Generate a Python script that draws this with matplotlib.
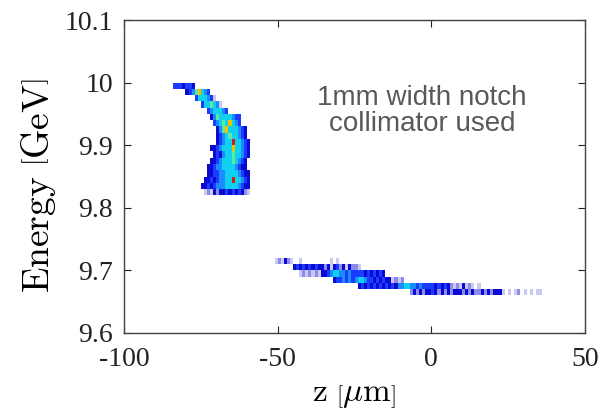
import numpy as np
import matplotlib
matplotlib.use("Agg")
import matplotlib.pyplot as plt
from matplotlib.colors import ListedColormap, BoundaryNorm

plt.rcParams['font.family'] = 'serif'
plt.rcParams['font.serif'] = ['Liberation Serif', 'DejaVu Serif']
plt.rcParams['mathtext.fontset'] = 'cm'
plt.rcParams['axes.unicode_minus'] = False

# histogram grid (z in um, energy in GeV)
z_edges = np.arange(-85, 41, 1.0)
E_edges = np.round(np.arange(9.66, 10.005, 0.01), 3)

# upper blob: one string per energy row, one char per z bin ('.' = empty, 1..9 = count level)
upper_E = [9.995, 9.985, 9.975, 9.965, 9.955, 9.945, 9.935, 9.925, 9.915,
           9.905, 9.895, 9.885, 9.875, 9.865, 9.855, 9.845, 9.835, 9.825]
upper_z0 = [-84, -80, -77, -75, -73, -72, -71, -70, -70,
            -70, -72, -71, -72, -73, -73, -74, -75, -74]
upper_rows = [
    "4443443",
    "34578654",
    "4666541",
    "4667651",
    "4566654",
    "3576666544",
    "456768654",
    "3578666543",
    "3456766543",
    "34566966543",
    "3345666866543",
    "343566766543",
    "334566676543",
    "3345566665433",
    "33445566665433",
    "334345566966543",
    "3343455566665433",
    "121323343434321",
]

# lower band
lower_E = [9.715, 9.705, 9.695, 9.685, 9.675, 9.665]
lower_z0 = [-51, -45, -43, -32, -24, -7]
lower_rows = [
    "121321..1.........1.1",
    "3434343433231342313221",
    "1212121334566554544443434343",
    "34454545665443434331212",
    "3434343434343556655454444343432121312" + "1.1",
    "232323343232323332323223232333" + "1.1.12.1.1.11",
]

level_colors = ['#c9c9f2', '#8c8cec', '#0a0ad2', '#1a3cff', '#1a8cff',
                '#10d0f0', '#60e8a0', '#f5c000', '#d22010']

H = np.zeros((len(E_edges) - 1, len(z_edges) - 1))
for rows, z0s, Es in [(upper_rows, upper_z0, upper_E), (lower_rows, lower_z0, lower_E)]:
    for s, z0, e in zip(rows, z0s, Es):
        r = int(np.searchsorted(E_edges, e) - 1)
        for i, ch in enumerate(s):
            if ch != '.':
                c = int(np.searchsorted(z_edges, z0 + i + 0.5) - 1)
                H[r, c] = int(ch)
H = np.ma.masked_equal(H, 0)

cmap = ListedColormap(level_colors)
norm = BoundaryNorm(np.arange(0.5, 10.5, 1), cmap.N)

fig = plt.figure(figsize=(6, 4.13), dpi=100)
ax = fig.add_axes([124 / 600, 1 - 333 / 413, (585 - 124) / 600, (333 - 20) / 413])
ax.pcolormesh(z_edges, E_edges, H, cmap=cmap, norm=norm, shading='flat',
              edgecolors='none', antialiased=False)

ax.set_xlim(-100, 50)
ax.set_ylim(9.6, 10.1)
ax.set_xticks([-100, -50, 0, 50])
ax.set_yticks([9.6, 9.7, 9.8, 9.9, 10.0, 10.1])
ax.set_yticklabels(['9.6', '9.7', '9.8', '9.9', '10', '10.1'])
ax.tick_params(direction='in', top=True, right=True, length=5, width=0.8,
               labelsize=20, colors='#222222')
ax.tick_params(axis='y', pad=8)
ax.tick_params(axis='x', pad=10)
for sp in ax.spines.values():
    sp.set_linewidth(1.0)
    sp.set_color('#404040')

ax.set_xlabel(r'$\mathrm{z}\ \left[\mu\mathrm{m}\right]$', fontsize=24)
ax.xaxis.set_label_coords(0.5, -0.245)
ax.xaxis.label.set_va('bottom')
ax.set_ylabel(r'$\mathrm{Energy}\ \left[\mathrm{GeV}\right]$', fontsize=27)
ax.yaxis.set_label_coords(-0.143, 0.47)

ax.text(-3, 9.955, "1mm width notch\ncollimator used", ha='center', va='center',
        fontsize=20, color='#595959', linespacing=1.0,
        family=['Liberation Sans', 'DejaVu Sans'])

fig.savefig("out.png", dpi=100)
